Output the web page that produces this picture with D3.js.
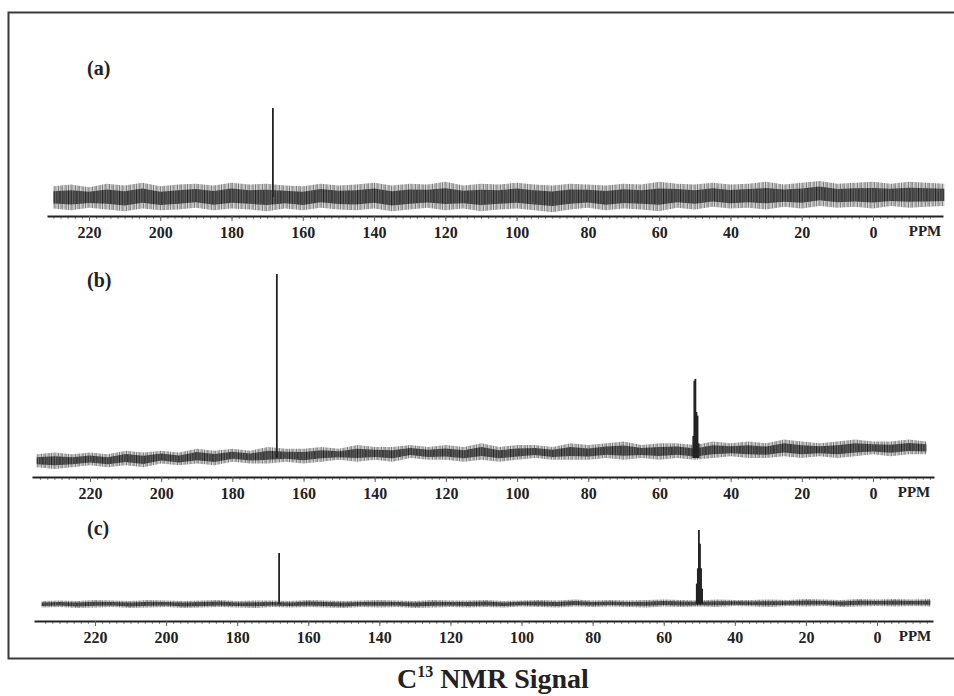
<!DOCTYPE html>
<html>
<head>
<meta charset="utf-8">
<script src="https://cdn.jsdelivr.net/npm/d3@7"></script>
<style>
  body { margin: 0; background: #fff; }
  svg { display: block; }
  text { font-family: "Liberation Serif", "Times New Roman", Times, serif; font-weight: bold; fill: #222; }
</style>
</head>
<body>
<div id="chart"></div>
<script>
// tick labels, shared by the three spectra
const tickPpm = [220, 200, 180, 160, 140, 120, 100, 80, 60, 40, 20, 0];

// ppm grid for the noise envelope of the baseline
const noisePpm = [235, 230, 225, 220, 215, 210, 205, 200, 195, 190, 185, 180, 175, 170, 165, 160,
  155, 150, 145, 140, 135, 130, 125, 120, 115, 110, 105, 100, 95, 90, 85, 80, 75, 70, 65, 60,
  55, 50, 45, 40, 35, 30, 25, 20, 15, 10, 5, 0, -5, -10, -15, -20];

// (a) noise top / bottom, intensity units (main peak = 100)
const noiseHiA = [null, 12, 14, 11, 15, 13, 16, 12, 14, 15, 13, 16, 14, 15, 13, 12,
  15, 13, 14, 16, 13, 15, 14, 17, 13, 15, 14, 16, 14, 13, 15, 14, 13, 15, 14, 17,
  15, 14, 16, 14, 15, 17, 14, 16, 18, 15, 16, 17, 15, 17, 16, 15];
const noiseLoA = [null, -13, -15, -12, -14, -16, -13, -15, -14, -12, -15, -13, -14, -16, -13, -15,
  -12, -14, -15, -13, -16, -14, -12, -15, -13, -16, -14, -13, -15, -17, -14, -12, -15, -13, -14, -16,
  -12, -14, -11, -13, -12, -14, -11, -13, -10, -12, -11, -13, -10, -12, -11, -10];

// (b) baseline drifts upwards to the right
const noiseHiB = [2, 3, 2, 3, 2, 4, 3, 4, 3, 5, 4, 5, 4, 6, 5, 5,
  6, 5, 7, 6, 6, 7, 6, 7, 6, 8, 6, 7, 7, 6, 8, 7, 8, 9, 7, 8,
  8, 7, 9, 8, 9, 8, 10, 9, 8, 9, 10, 9, 9, 10, 9, null];
const noiseLoB = [-5, -6, -5, -4, -5, -4, -5, -3, -4, -3, -4, -2, -3, -3, -2, -3,
  -2, -1, -2, -1, -2, 0, -1, -1, -2, -1, -2, -1, 0, -1, -1, -1, 0, -1, 0, -1,
  0, -1, 0, 1, 0, 0, 1, 0, 1, 0, 1, 2, 1, 2, 2, null];

// (c) flat, low noise
const noiseHiC = [6, 7, 6, 8, 7, 6, 8, 7, 6, 7, 8, 6, 7, 7, 6, 8,
  7, 6, 7, 8, 7, 6, 8, 7, 7, 8, 6, 7, 8, 7, 9, 7, 8, 7, 8, 9,
  8, 7, 9, 8, 8, 9, 8, 10, 9, 8, 10, 9, 10, 9, 10, null];
const noiseLoC = [-7, -6, -8, -7, -6, -8, -7, -6, -8, -7, -6, -7, -8, -6, -7, -6,
  -7, -8, -6, -7, -6, -8, -7, -6, -7, -6, -7, -5, -6, -7, -5, -6, -5, -6, -7, -5,
  -6, -5, -6, -4, -5, -6, -4, -5, -4, -6, -5, -4, -5, -4, -5, null];

// peaks: ppm and height
const peaksA = [{ ppm: 168.4, h: 100 }];
const peaksB = [
  { ppm: 167.5, h: 100 },
  { ppm: 50.5, h: 12 }, { ppm: 50.2, h: 42 }, { ppm: 49.9, h: 43 },
  { ppm: 49.6, h: 25 }, { ppm: 49.3, h: 23 }, { ppm: 49.0, h: 8 }
];
const peaksC = [
  { ppm: 168.2, h: 100 },
  { ppm: 50.7, h: 40 }, { ppm: 50.4, h: 70 }, { ppm: 50.1, h: 145 },
  { ppm: 49.8, h: 118 }, { ppm: 49.5, h: 70 }, { ppm: 49.2, h: 30 }
];

const width = 954;
const height = 696;
const serif = '"Liberation Serif", "Times New Roman", Times, serif';

// layout of the three stacked spectra (pixel positions of the scanned figure)
const panels = [
  { name: '(a)', labelY: 75, hi: noiseHiA, lo: noiseLoA, peaks: peaksA,
    x220: 89, x0: 873, axisFrom: 47, axisTo: 943, axisY: 216, base: 197, unit: 0.89, ppmX: 925 },
  { name: '(b)', labelY: 287, hi: noiseHiB, lo: noiseLoB, peaks: peaksB,
    x220: 90, x0: 873, axisFrom: 32, axisTo: 934, axisY: 477, base: 458, unit: 1.84, ppmX: 914 },
  { name: '(c)', labelY: 535, hi: noiseHiC, lo: noiseLoC, peaks: peaksC,
    x220: 95, x0: 877, axisFrom: 34, axisTo: 933, axisY: 621, base: 604, unit: 0.51, ppmX: 915 }
];

const svg = d3.select('#chart').append('svg')
  .attr('width', width)
  .attr('height', height);

// irregular vertical strokes imitating the scanned noise: light fringe, dark core
const defs = svg.append('defs');
const makeHatch = (id, bg, strokes) => {
  const pat = defs.append('pattern')
    .attr('id', id)
    .attr('patternUnits', 'userSpaceOnUse')
    .attr('width', 17)
    .attr('height', 5);
  pat.append('rect').attr('width', 17).attr('height', 5).attr('fill', bg);
  strokes.forEach(([x, w, c]) => pat.append('rect').attr('x', x).attr('width', w).attr('height', 5).attr('fill', c));
};
makeHatch('fringe', '#d2d2d2', [[0, 0.8, '#6a6a6a'], [2.1, 0.6, '#999'], [3.4, 1.0, '#777'],
  [5.6, 0.5, '#aaa'], [6.9, 0.8, '#5f5f5f'], [9.0, 0.6, '#8a8a8a'], [10.6, 1.1, '#707070'],
  [13.1, 0.5, '#9a9a9a'], [14.6, 0.9, '#666']]);
makeHatch('core', '#6d6d6d', [[0, 0.9, '#1f1f1f'], [1.5, 0.6, '#444'], [2.6, 1.2, '#2a2a2a'],
  [4.5, 0.5, '#555'], [5.4, 1.0, '#222'], [7.0, 0.7, '#3d3d3d'], [8.3, 1.3, '#262626'],
  [10.2, 0.6, '#4a4a4a'], [11.4, 1.0, '#1e1e1e'], [13.2, 0.7, '#3a3a3a'], [14.6, 1.1, '#2c2c2c'],
  [16.2, 0.5, '#505050']]);

// frame of the figure
svg.append('path')
  .attr('d', 'M954,12.5H8.5V658.5H954')
  .attr('fill', 'none')
  .attr('stroke', '#3a3a3a')
  .attr('stroke-width', 2);

panels.forEach((p) => {
  const x = d3.scaleLinear().domain([220, 0]).range([p.x220, p.x0]);
  const xAxisScale = x.copy().domain([x.invert(p.axisFrom), x.invert(p.axisTo)]).range([p.axisFrom, p.axisTo]);
  const y = (v) => p.base - v * p.unit;

  const g = svg.append('g');

  g.append('text')
    .attr('x', 87)
    .attr('y', p.labelY)
    .attr('font-size', 20)
    .text(p.name);

  // baseline noise band: full envelope, then a darker core
  const rows = noisePpm.map((ppm, i) => ({ ppm, hi: p.hi[i], lo: p.lo[i] }));
  const has = d => d.hi !== null && d.hi !== undefined;
  const band = (k) => d3.area()
    .defined(has)
    .x(d => x(d.ppm))
    .y0(d => y((d.hi + d.lo) / 2 + (d.lo - d.hi) / 2 * k))
    .y1(d => y((d.hi + d.lo) / 2 + (d.hi - d.lo) / 2 * k));
  g.append('path')
    .datum(rows)
    .attr('d', band(1))
    .attr('fill', 'url(#fringe)');
  g.append('path')
    .datum(rows)
    .attr('d', band(0.55))
    .attr('fill', 'url(#core)');

  // peaks as sticks from the baseline
  g.selectAll('.peak')
    .data(p.peaks)
    .enter().append('line')
      .attr('class', 'peak')
      .attr('x1', d => x(d.ppm))
      .attr('x2', d => x(d.ppm))
      .attr('y1', y(0))
      .attr('y2', d => y(d.h))
      .attr('stroke', '#222')
      .attr('stroke-width', 1.8);

  // minor ticks every 2 ppm
  const minor = d3.range(-16, 236, 2).filter(v => xAxisScale(v) > p.axisFrom + 2 && xAxisScale(v) < p.axisTo - 2);
  g.append('g')
    .attr('transform', `translate(0,${p.axisY})`)
    .call(d3.axisBottom(xAxisScale).tickValues(minor).tickSize(3).tickFormat(''))
    .call(s => s.select('.domain').remove())
    .call(s => s.selectAll('line').attr('stroke', '#888'));

  // main axis
  const ax = g.append('g')
    .attr('transform', `translate(0,${p.axisY})`)
    .call(d3.axisBottom(xAxisScale).tickValues(tickPpm).tickSize(5).tickSizeOuter(0).tickPadding(6));
  ax.attr('font-family', serif);
  ax.select('.domain').attr('stroke', '#222').attr('stroke-width', 2);
  ax.selectAll('line').attr('stroke', '#666');
  ax.selectAll('text')
    .style('font-family', serif)
    .attr('font-weight', 'bold')
    .attr('font-size', 16)
    .attr('fill', '#222');

  g.append('text')
    .attr('x', p.ppmX)
    .attr('y', p.axisY + 20)
    .attr('text-anchor', 'middle')
    .attr('font-size', 15)
    .attr('font-weight', 'normal')
    .text('PPM');
});

const title = svg.append('text')
  .attr('x', 493)
  .attr('y', 688)
  .attr('text-anchor', 'middle')
  .attr('font-size', 28);
title.append('tspan').text('C');
title.append('tspan').attr('font-size', 16).attr('dy', -11).text('13');
title.append('tspan').attr('dy', 11).text(' NMR Signal');
</script>
</body>
</html>
